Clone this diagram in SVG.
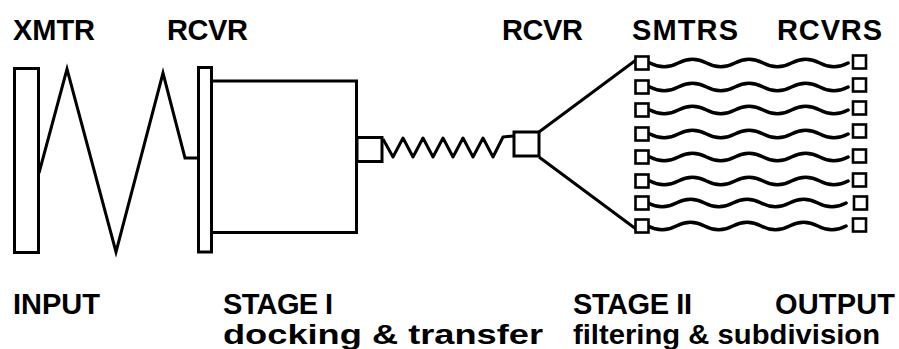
<svg xmlns="http://www.w3.org/2000/svg" xmlns:xlink="http://www.w3.org/1999/xlink" width="899" height="349" viewBox="0 0 899 349">
  <style>
    .bg { fill: #ffffff; }
    .shape { fill: #ffffff; stroke: #000000; stroke-width: 3; }
    .sq { fill: #ffffff; stroke: #000000; stroke-width: 2.6; }
    .line { fill: none; stroke: #000000; stroke-width: 3; stroke-linejoin: miter; stroke-miterlimit: 20; }
    .wave { fill: none; stroke: #000000; stroke-width: 3.4; stroke-linecap: round; }
    .spring { fill: none; stroke: #000000; stroke-width: 3; stroke-linejoin: round; }
    .lbl { font-family: "Liberation Sans", Arial, Helvetica, sans-serif; font-weight: bold; font-size: 29px; fill: #000000; }
    .sub { font-family: "Liberation Sans", Arial, Helvetica, sans-serif; font-weight: bold; font-size: 27px; fill: #000000; }
  </style>
  <defs>
    <path id="wave" d="M0,0 c9.4,5 18.9,5 28.3,0 c9.4,-5 18.9,-5 28.3,0 c9.4,5 18.9,5 28.3,0 c9.4,-5 18.9,-5 28.3,0 c9.4,5 18.9,5 28.3,0 c9.4,-5 18.9,-5 28.3,0 c9.4,5 18.9,5 28.3,0"/>
  </defs>
  <rect class="bg" x="0" y="0" width="899" height="349"/>

  <g id="connectors">
    <polyline class="line" points="39,173 67,69 116,252 163,73 185,158 198,158"/>
    <polyline class="spring" points="383,139 393,157 403,138 413,157 423,138 433,157 443,138 453,157 463,138 473,157 483,138 493,157 503,137 514,136"/>
    <line class="line" x1="539" y1="132" x2="636" y2="60"/>
    <line class="line" x1="539" y1="157" x2="636" y2="229"/>
    <use class="wave" xlink:href="#wave" x="650" y="63"/>
    <use class="wave" xlink:href="#wave" x="650" y="87"/>
    <use class="wave" xlink:href="#wave" x="650" y="110"/>
    <use class="wave" xlink:href="#wave" x="650" y="134"/>
    <use class="wave" xlink:href="#wave" x="650" y="157"/>
    <use class="wave" xlink:href="#wave" x="650" y="181"/>
    <use class="wave" xlink:href="#wave" x="648" y="203"/>
    <use class="wave" xlink:href="#wave" x="648" y="226"/>
  </g>

  <g id="xmtr">
    <rect class="shape" x="14.5" y="68.5" width="24" height="184"/>
  </g>

  <g id="stage1">
    <rect class="shape" x="211" y="81" width="145.5" height="151.5"/>
    <rect class="shape" x="198.5" y="67.5" width="13" height="184.5"/>
    <rect class="shape" x="357" y="137.5" width="25" height="24"/>
  </g>

  <g id="rcvr2">
    <rect class="shape" x="514" y="132" width="25" height="24"/>
  </g>

  <g id="smtrs">
    <rect class="sq" x="635.5" y="56.5" width="13" height="13"/>
    <rect class="sq" x="635.5" y="80.5" width="13" height="13"/>
    <rect class="sq" x="635.5" y="103.5" width="13" height="13"/>
    <rect class="sq" x="635.5" y="127.5" width="13" height="13"/>
    <rect class="sq" x="635.5" y="150.5" width="13" height="13"/>
    <rect class="sq" x="635.5" y="174.5" width="13" height="13"/>
    <rect class="sq" x="635.5" y="196.5" width="13" height="13"/>
    <rect class="sq" x="635.5" y="219.5" width="13" height="13"/>
  </g>

  <g id="rcvrs">
    <rect class="sq" x="853" y="55.5" width="13" height="13"/>
    <rect class="sq" x="853" y="78.5" width="13" height="13"/>
    <rect class="sq" x="853" y="101.5" width="13" height="13"/>
    <rect class="sq" x="853" y="124.5" width="13" height="13"/>
    <rect class="sq" x="853" y="149.5" width="13" height="13"/>
    <rect class="sq" x="853" y="173.5" width="13" height="13"/>
    <rect class="sq" x="854" y="196.5" width="13" height="13"/>
    <rect class="sq" x="853" y="218.5" width="13" height="13"/>
  </g>

  <g id="labels">
    <text class="lbl" x="13" y="40" textLength="82">XMTR</text>
    <text class="lbl" x="167" y="40" textLength="81">RCVR</text>
    <text class="lbl" x="502" y="40" textLength="81">RCVR</text>
    <text class="lbl" x="632" y="40" textLength="106">SMTRS</text>
    <text class="lbl" x="777" y="40" textLength="105">RCVRS</text>
    <text class="lbl" x="13" y="314" textLength="87">INPUT</text>
    <text class="lbl" x="223" y="314" textLength="110">STAGE I</text>
    <text class="sub" x="223" y="344" textLength="320" lengthAdjust="spacingAndGlyphs">docking &amp; transfer</text>
    <text class="lbl" x="573" y="314" textLength="119">STAGE II</text>
    <text class="lbl" x="775" y="314" textLength="120">OUTPUT</text>
    <text class="sub" x="573" y="344" textLength="307" lengthAdjust="spacingAndGlyphs">filtering &amp; subdivision</text>
  </g>
</svg>
